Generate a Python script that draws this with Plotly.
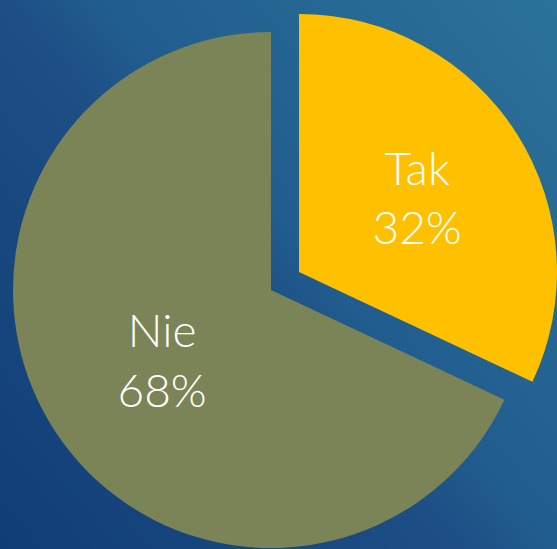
import plotly.graph_objects as go

# ---- data ----
labels = ["Tak", "Nie"]
values = [32, 68]
slice_colors = ["#FFC000", "#7B8456"]

# ---- layout parameters (pixels) ----
W, H = 557, 549
R = 258
centers = {"Nie": (271, 290), "Tak": (299, 272)}

def domain_for(cx, cy, r):
    return dict(x=[max(0, (cx - r) / W), min(1, (cx + r) / W)],
                y=[max(0, 1 - (cy + r) / H), min(1, 1 - (cy - r) / H)])

fig = go.Figure()

# background gradient (decorative)
bg_scale = [[0.0, "#113d76"], [0.45, "#1d4e85"], [0.55, "#215d8f"], [1.0, "#2b7399"]]
fig.add_trace(go.Heatmap(
    x=[0, 1], y=[0, 1], z=[[0.0, 0.55], [0.45, 1.0]],
    colorscale=bg_scale, zmin=0, zmax=1, zsmooth="best",
    showscale=False, hoverinfo="skip",
))

font = dict(family="Lato, 'Open Sans', sans-serif", size=46, color="white", weight=300)

for i, lab in enumerate(labels):
    cols = ["rgba(0,0,0,0)"] * len(labels)
    cols[i] = slice_colors[i]
    tmpl = [""] * len(labels)
    tmpl[i] = "%{label}<br>%{percent}"
    cx, cy = centers[lab]
    fig.add_trace(go.Pie(
        labels=labels, values=values, sort=False, direction="clockwise", rotation=0,
        marker=dict(colors=cols, line=dict(width=0)),
        texttemplate=tmpl, textposition="inside", insidetextorientation="horizontal",
        insidetextfont=font, domain=domain_for(cx, cy, R),
        showlegend=False, hoverinfo="skip",
    ))

fig.update_layout(
    width=W, height=H, margin=dict(l=0, r=0, t=0, b=0),
    paper_bgcolor="#1d4e85", plot_bgcolor="#1d4e85",
    xaxis=dict(visible=False, range=[0, 1], domain=[0, 1], fixedrange=True),
    yaxis=dict(visible=False, range=[0, 1], domain=[0, 1], fixedrange=True),
    showlegend=False,
)

fig.write_html(
    "out.html",
    config={"displayModeBar": False},
    post_script="document.body.style.margin='0';document.body.style.overflow='hidden';",
)
